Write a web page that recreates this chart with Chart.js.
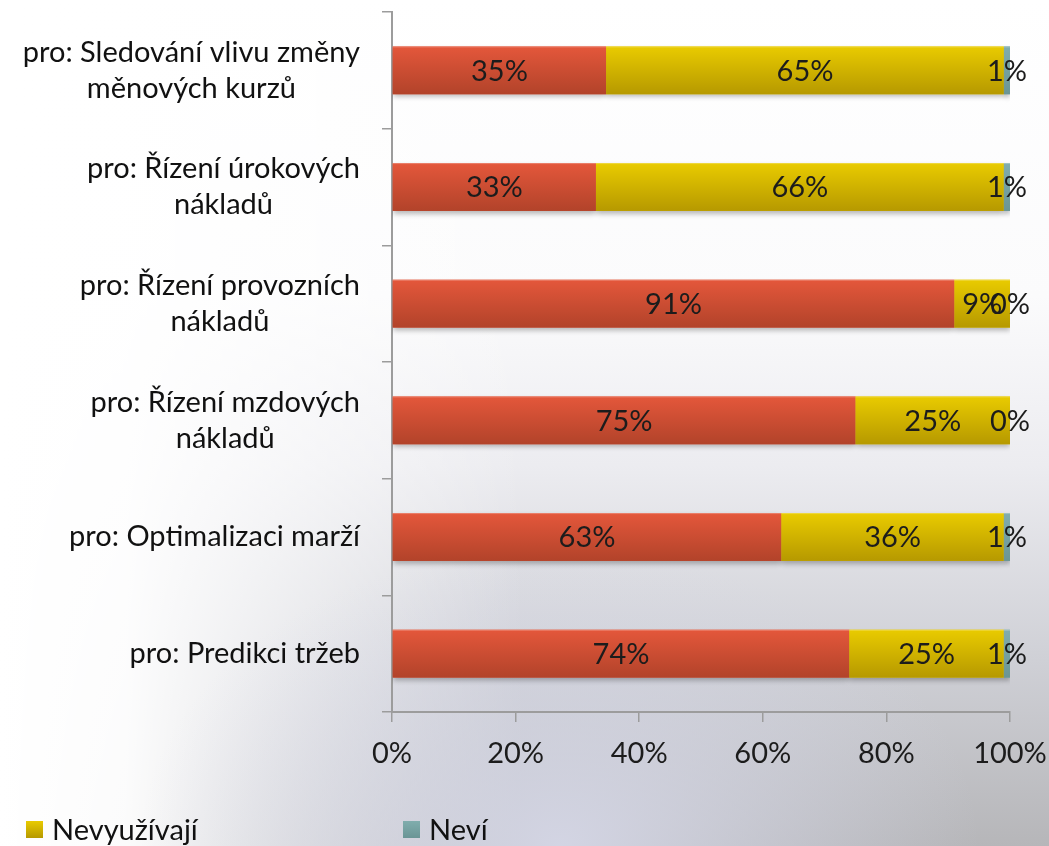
<!DOCTYPE html>
<html>
<head>
<meta charset="utf-8">
<script src="https://cdn.jsdelivr.net/npm/chart.js@4.4.1/dist/chart.umd.min.js"></script>
<style>
  html, body { margin: 0; padding: 0; width: 1049px; height: 846px; overflow: hidden; }
  body {
    background:
      radial-gradient(ellipse 420px 300px at 560px 846px, rgba(214,216,232,0.9) 0%, rgba(214,216,232,0) 100%),
      linear-gradient(to right, rgba(255,255,255,1) 0%, rgba(255,255,255,0.95) 12%, rgba(255,255,255,0.5) 30%, rgba(255,255,255,0) 50%),
      linear-gradient(to bottom, #ffffff 0%, #fbfbfc 35%, #ececf0 55%, #cfd0d6 78%, #b6b6b9 100%);
  }
  canvas { position: absolute; left: 0; top: 0; }
</style>
</head>
<body>
<canvas id="c" width="1049" height="846"></canvas>
<script>
// ---- data ----
const categories = [
  ["pro: Sledování vlivu změny", "měnových kurzů"],
  ["pro: Řízení úrokových", "nákladů"],
  ["pro: Řízení provozních", "nákladů"],
  ["pro: Řízení mzdových", "nákladů"],
  ["pro: Optimalizaci marží"],
  ["pro: Predikci tržeb"]
];
const seriesNames = ["Využívají", "Nevyužívají", "Neví"];
const vyuzivaji   = [35, 33, 91, 75, 63, 74];
const nevyuzivaji = [65, 66, 9, 25, 36, 25];
const nevi        = [1, 1, 0, 0, 1, 1];
const xTicks = [0, 20, 40, 60, 80, 100];
const legendShown = [false, true, true];

// ---- styles ----
const colorsTop = ["#e4573b", "#e9cb00", "#80adad"];
const colorsBottom = ["#b2432a", "#b69900", "#6a9595"];
const FONT = "Lato, 'Open Sans', sans-serif";

const raw = [vyuzivaji, nevyuzivaji, nevi];
const rowSums = categories.map((_, i) => raw.reduce((s, arr) => s + arr[i], 0));
const datasets = raw.map((arr, k) => ({
  label: seriesNames[k],
  data: arr.map((v, i) => v / rowSums[i] * 100),
  rawValues: arr,
  backgroundColor: colorsTop[k],
  borderWidth: 0,
  categoryPercentage: 1.0,
  barPercentage: 0.41
}));

const shadowPlugin = {
  id: 'shadow',
  beforeDatasetsDraw(chart) {
    const ctx = chart.ctx;
    ctx.save();
    ctx.shadowColor = 'rgba(0,0,0,0.28)';
    ctx.shadowBlur = 5;
    ctx.shadowOffsetY = 3;
  },
  afterDatasetsDraw(chart) {
    const ctx = chart.ctx;
    ctx.restore();
    chart.data.datasets.forEach((ds, k) => {
      const meta = chart.getDatasetMeta(k);
      meta.data.forEach(bar => {
        const p = bar.getProps(['x', 'y', 'base', 'height'], true);
        const x0 = Math.min(p.x, p.base), w = Math.abs(p.x - p.base);
        if (w <= 0) return;
        const top = p.y - p.height / 2;
        const g = ctx.createLinearGradient(0, top, 0, top + p.height);
        g.addColorStop(0, colorsTop[k]);
        g.addColorStop(1, colorsBottom[k]);
        ctx.fillStyle = g;
        ctx.fillRect(x0, top, w, p.height);
        ctx.fillStyle = 'rgba(255,255,255,0.25)';
        ctx.fillRect(x0, top, w, 1);
      });
    });
    ctx.save();
    ctx.font = "29px " + FONT;
    ctx.fillStyle = '#1c1c1c';
    ctx.textAlign = 'center';
    ctx.textBaseline = 'middle';
    chart.data.datasets.forEach((ds, k) => {
      const meta = chart.getDatasetMeta(k);
      meta.data.forEach((bar, i) => {
        const p = bar.getProps(['x', 'y', 'base'], true);
        ctx.fillText(ds.rawValues[i] + '%', (p.x + p.base) / 2, p.y + 1);
      });
    });
    ctx.restore();
  }
};

const yLabelPlugin = {
  id: 'ylabels',
  afterDraw(chart) {
    const ctx = chart.ctx;
    const ys = chart.scales.y;
    ctx.save();
    ctx.font = "29px " + FONT;
    ctx.fillStyle = '#111';
    ctx.textAlign = 'center';
    ctx.textBaseline = 'middle';
    const right = 360, lh = 36;
    categories.forEach((lines, i) => {
      const cy = ys.getPixelForValue(i);
      const w = Math.max(...lines.map(l => ctx.measureText(l).width));
      const cx = right - w / 2;
      const y0 = cy - (lines.length - 1) * lh / 2;
      lines.forEach((l, j) => ctx.fillText(l, cx, y0 + j * lh));
    });
    ctx.restore();
  }
};

const legendPlugin = {
  id: 'customLegend',
  afterDraw(chart) {
    const ctx = chart.ctx;
    const slots = [-354, 26, 403];
    ctx.save();
    ctx.font = "29px " + FONT;
    ctx.textBaseline = 'alphabetic';
    seriesNames.forEach((name, k) => {
      if (!legendShown[k]) return;
      const x = slots[k], y = 821, s = 17;
      const g = ctx.createLinearGradient(0, y, 0, y + s);
      g.addColorStop(0, colorsTop[k]);
      g.addColorStop(1, colorsBottom[k]);
      ctx.fillStyle = g;
      ctx.fillRect(x, y, s, s);
      ctx.fillStyle = '#111';
      ctx.fillText(name, x + 26, 840);
    });
    ctx.restore();
  }
};

new Chart(document.getElementById('c'), {
  type: 'bar',
  data: { labels: categories.map(l => l.join(' ')), datasets },
  options: {
    indexAxis: 'y',
    responsive: false,
    animation: false,
    layout: { padding: { top: 12, right: 39, left: 0, bottom: 0 } },
    plugins: { legend: { display: false }, tooltip: { enabled: false } },
    scales: {
      x: {
        stacked: true,
        min: 0, max: 100,
        afterBuildTicks(scale) { scale.ticks = xTicks.map(v => ({ value: v })); },
        afterFit(scale) { scale.height = 134; scale.paddingRight = 0; scale.paddingLeft = 0; },
        grid: { drawOnChartArea: false, drawTicks: true, tickLength: 10, color: '#9c9c9c', lineWidth: 1.5 },
        border: { color: '#9c9c9c', width: 2 },
        ticks: {
          padding: 14,
          color: '#1c1c1c',
          font: { family: FONT, size: 29 },
          maxRotation: 0,
          callback: v => v + '%'
        }
      },
      y: {
        stacked: true,
        afterFit(scale) { scale.width = 392; scale.paddingTop = 0; scale.paddingBottom = 0; },
        grid: { offset: true, drawOnChartArea: false, drawTicks: true, tickLength: 10, color: '#9c9c9c', lineWidth: 1.5 },
        border: { color: '#9c9c9c', width: 2 },
        ticks: { display: false }
      }
    }
  },
  plugins: [shadowPlugin, yLabelPlugin, legendPlugin]
});
</script>
</body>
</html>
